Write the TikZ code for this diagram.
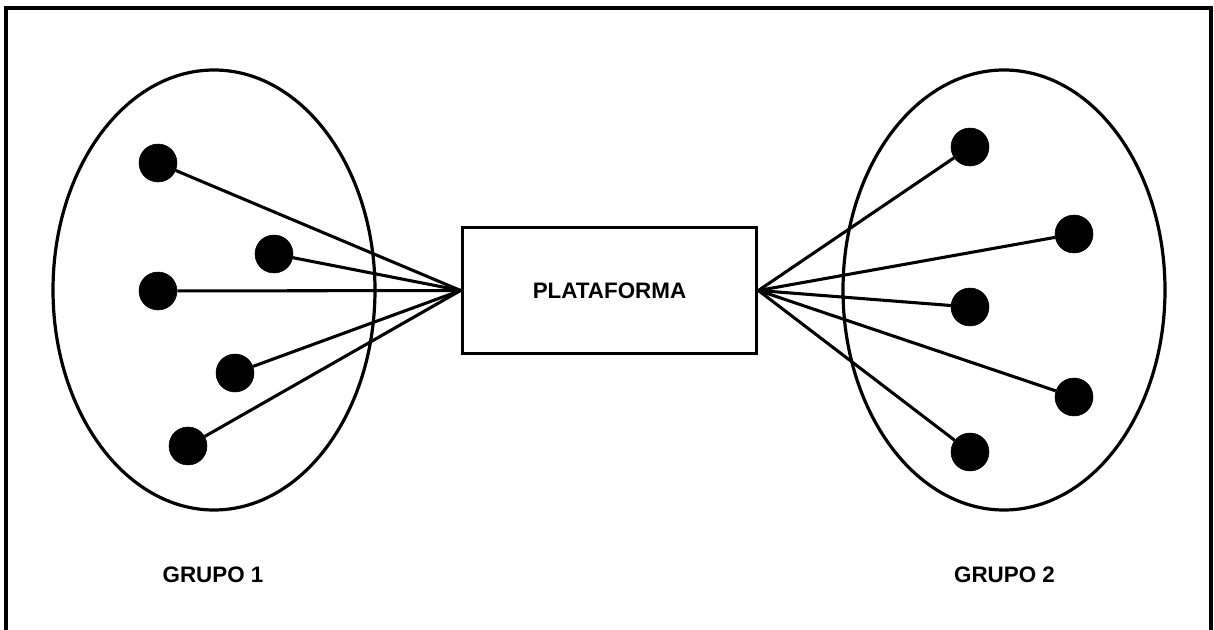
\documentclass[tikz,border=0pt]{standalone}
\usepackage{fontspec}
\setmainfont{Liberation Sans}
\begin{document}
\begin{tikzpicture}
	[x=0.75pt,y=-0.75pt,
	 dot/.style={circle,draw=black,fill=black,inner sep=0pt,minimum size=28.5pt},
	 link/.style={black,line width=2.3pt},
	 label/.style={font=\fontsize{16.8}{19}\selectfont\bfseries}]
    \useasboundingbox (0,0) rectangle (1214,630);
    \draw[line width=2.3pt] (6,640) -- (6,8) -- (1211,8) -- (1211,640);
    \draw[line width=2.4pt] (214,290) ellipse [x radius=161,y radius=220];
    \draw[line width=2.4pt] (1004,290) ellipse [x radius=161,y radius=220];
    \node[draw,line width=2.4pt,minimum width=221pt,minimum height=94pt,label] at (609.5,290.5) (plat) {PLATAFORMA};
    % grupo 1
    \node[dot] at (158,163) (a1) {};
    \node[dot] at (274,254) (a2) {};
    \node[dot] at (158,291) (a3) {};
    \node[dot] at (235,373) (a4) {};
    \node[dot] at (188,446) (a5) {};
    % grupo 2
    \node[dot] at (970,147)  (b1) {};
    \node[dot] at (1074,234) (b2) {};
    \node[dot] at (970,307)  (b3) {};
    \node[dot] at (1074,397) (b4) {};
    \node[dot] at (970,452)  (b5) {};
    \foreach \n in {a1,a2,a3,a4,a5}
        \draw[link] (\n) -- (plat.west);
    \foreach \n in {b1,b2,b3,b4,b5}
        \draw[link] (\n) -- (plat.east);
    \node[label] at (213,575) (g1) {GRUPO 1};
    \node[label] at (1004.5,575) (g2) {GRUPO 2};
\end{tikzpicture}
\end{document}
